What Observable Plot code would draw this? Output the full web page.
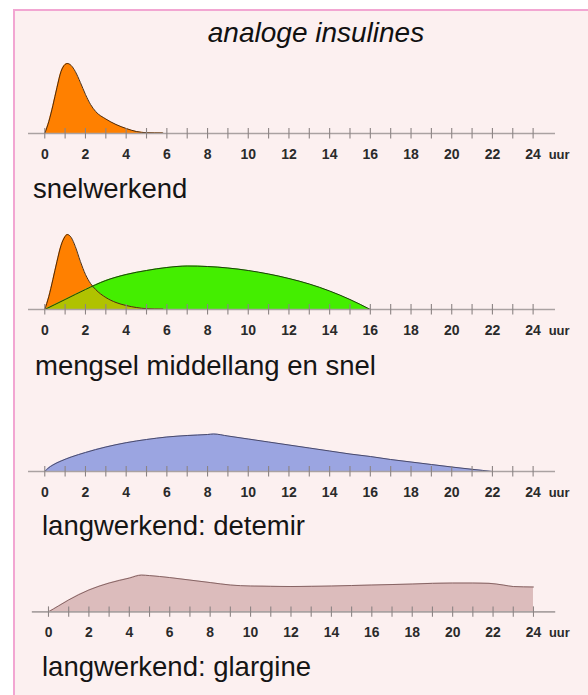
<!DOCTYPE html>
<html><head><meta charset="utf-8">
<script src="https://cdn.jsdelivr.net/npm/d3@7"></script>
<script src="https://cdn.jsdelivr.net/npm/@observablehq/plot@0.6"></script>
<style>
body{margin:0;background:#fff;font-family:"Liberation Sans",Arial,sans-serif;width:588px;height:695px;overflow:hidden;position:relative;}
#frame{position:absolute;left:13px;top:9px;width:620px;height:720px;border:2px solid #f2a6d2;background:#fcf0f0;box-sizing:border-box;}
.panel{position:absolute;}
.lbl{position:absolute;font-size:27.5px;line-height:27.5px;color:#151515;white-space:nowrap;}
#title{position:absolute;left:0;width:632px;text-align:center;top:19px;font-style:italic;font-size:28px;line-height:28px;color:#111;}
</style></head><body>
<div id="frame"></div>
<div id="title">analoge insulines</div>
<div class="panel" id="p1" style="left:0;top:38px"></div>
<div class="lbl" style="left:33px;top:175px">snelwerkend</div>
<div class="panel" id="p2" style="left:0;top:214px"></div>
<div class="lbl" style="left:35px;top:352px">mengsel middellang en snel</div>
<div class="panel" id="p3" style="left:0;top:376px"></div>
<div class="lbl" style="left:42px;top:512px">langwerkend: detemir</div>
<div class="panel" id="p4" style="left:4px;top:517px"></div>
<div class="lbl" style="left:42px;top:653px">langwerkend: glargine</div>
<script>
// hours axis
const hourTicks = d3.range(0, 25, 1);
const tickLabels = [0, 2, 4, 6, 8, 10, 12, 14, 16, 18, 20, 22, 24];
const unitLabel = "uur";

// snelwerkend (rapid-acting) – werking vs uur
const rapidHours = [0, 0.2, 0.4, 0.6, 0.8, 1.0, 1.1, 1.3, 1.5, 1.75, 2.0, 2.25, 2.5, 3.0, 3.5, 4.0, 4.5, 5.0, 5.8];
const rapidValues = [0, 12, 28, 46, 62, 69, 70, 68, 62, 51, 39, 29, 22, 14.5, 9, 5, 2, 0.8, 0.6];

// mengsel: snel deel
const mixFastHours = [0, 0.2, 0.4, 0.6, 0.8, 1.0, 1.1, 1.3, 1.5, 1.75, 2.0, 2.25, 2.5, 3.0, 3.5, 4.0, 4.5, 5.0, 5.8];
const mixFastValues = [0, 13, 30, 48, 64, 73, 75, 72, 63, 48, 35, 26, 20, 12, 7, 4, 2, 0.8, 0.5];
// mengsel: middellang deel
const mixMidHours = [0, 1, 2, 3, 4, 5, 6, 7, 8, 9, 10, 11, 12, 13, 14, 15, 16];
const mixMidValues = [0, 10, 20, 29, 35, 39, 42, 43.5, 43, 41.5, 39, 35.5, 31, 25.5, 18.5, 10, 0];

// langwerkend: detemir
const detemirHours = [0, 0.15, 0.4, 0.8, 1.3, 2, 3, 4, 5, 6, 7, 8, 8.3, 9, 10, 11, 12, 13, 14, 15, 16, 17, 18, 19, 20, 21, 22];
const detemirValues = [0, 3, 6.5, 10.5, 14.5, 19, 24.5, 28.8, 32, 34.5, 36, 37, 37.5, 35.5, 32.5, 29.5, 26.5, 23.5, 20.5, 17.5, 15, 12, 9.5, 7, 4.5, 2.2, 0];

// langwerkend: glargine
const glargineHours = [0, 0.5, 1, 2, 3, 4, 4.6, 5, 6, 7, 8, 9, 10, 11, 12, 13, 14, 15, 16, 17, 18, 19, 20, 21, 21.8, 22.5, 23, 24];
const glargineValues = [0, 6, 12, 22, 29, 34, 37, 36.5, 34.5, 32, 29.5, 27, 26, 25.7, 25.5, 25.7, 26, 26.5, 27, 27.5, 28, 28.7, 29, 29, 28.7, 27, 25.5, 25];

const toRows = (hs, vs) => hs.map((h, i) => ({h, v: vs[i]}));
const rapid = toRows(rapidHours, rapidValues);
const mixFast = toRows(mixFastHours, mixFastValues);
const mixMid = toRows(mixMidHours, mixMidValues);
const detemir = toRows(detemirHours, detemirValues);
const glargine = toRows(glargineHours, glargineValues);
const midAt = d3.scaleLinear().domain(mixMidHours).range(mixMidValues).clamp(true);
const overlap = mixFast.map(d => ({h: d.h, v: Math.min(d.v, midAt(d.h))}));

const axisColor = "#aaa2a2";
const tickColor = "#8c8484";
const curve = "monotone-x";

function panel(curveMarks) {
  const last = tickLabels[tickLabels.length - 1];
  return Plot.plot({
    width: 588, height: 130,
    marginLeft: 28, marginRight: 33, marginTop: 10, marginBottom: 35,
    x: {domain: [-0.8, 25.1], axis: null},
    y: {domain: [0, 85], axis: null},
    style: {background: "transparent", fontFamily: "'Liberation Sans', Arial, sans-serif", overflow: "visible"},
    marks: [
      ...curveMarks,
      Plot.ruleY([0], {stroke: axisColor, strokeWidth: 1.6}),
      Plot.ruleX(hourTicks, {x: d => d, y1: -5.5, y2: 5, stroke: tickColor, strokeWidth: 1.1}),
      Plot.text(tickLabels, {x: d => d, y: 0, dy: 21, text: d => String(d), fontSize: 14, fontWeight: "bold", fill: "#2a2a2a"}),
      Plot.text([unitLabel], {x: () => last, y: 0, dy: 21, dx: 26, text: d => d, fontSize: 13, fontWeight: "bold", fill: "#2a2a2a"})
    ]
  });
}

document.getElementById("p1").append(panel([
  Plot.areaY(rapid, {x: "h", y: "v", fill: "#ff8000", curve}),
  Plot.lineY(rapid, {x: "h", y: "v", stroke: "#4a2c12", strokeWidth: 1, curve})
]));
document.getElementById("p2").append(panel([
  Plot.areaY(mixFast, {x: "h", y: "v", fill: "#ff8000", curve}),
  Plot.areaY(mixMid, {x: "h", y: "v", fill: "#44ee00", curve}),
  Plot.areaY(overlap, {x: "h", y: "v", fill: "#b0c200", curve}),
  Plot.lineY(mixMid, {x: "h", y: "v", stroke: "#1f3a10", strokeWidth: 1, curve}),
  Plot.lineY(mixFast, {x: "h", y: "v", stroke: "#4a2c12", strokeWidth: 1, curve})
]));
document.getElementById("p3").append(panel([
  Plot.areaY(detemir, {x: "h", y: "v", fill: "#9ba5e1", curve}),
  Plot.lineY(detemir, {x: "h", y: "v", stroke: "#4a4a6a", strokeWidth: 1, curve})
]));
document.getElementById("p4").append(panel([
  Plot.areaY(glargine, {x: "h", y: "v", fill: "#dcbcbc", curve}),
  Plot.lineY(glargine, {x: "h", y: "v", stroke: "#866464", strokeWidth: 1, curve})
]));
</script>
</body></html>
